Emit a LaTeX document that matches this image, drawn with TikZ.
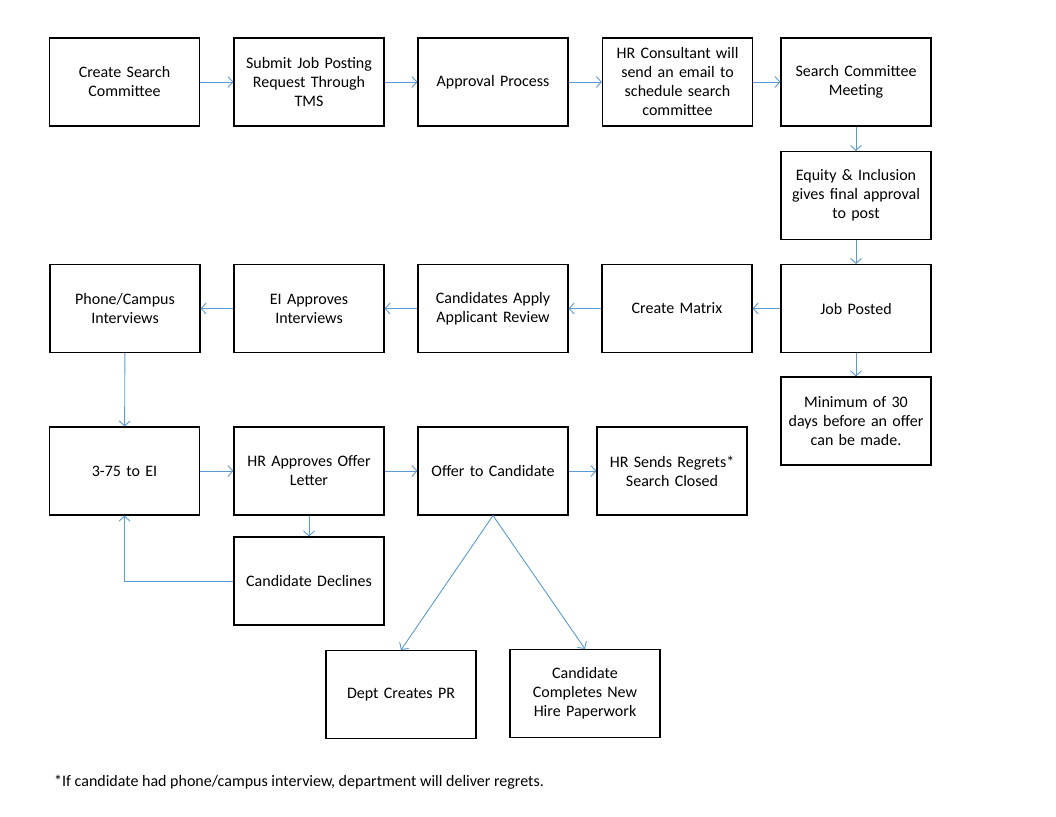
\documentclass[tikz,border=0pt]{standalone}
\usepackage{fontspec}
\setmainfont{Carlito}
\usetikzlibrary{arrows.meta}
\definecolor{arr}{RGB}{91,155,213}
\begin{document}
\begin{tikzpicture}[x=1pt,y=-1pt,
  box/.style={draw=black,line width=1.1pt,minimum width=150pt,minimum height=88pt,text width=146pt,align=center,inner sep=0pt,font=\fontsize{16}{19}\selectfont},
  conn/.style={draw=arr,line width=0.9pt,-{Straight Barb[length=5pt,width=11pt]}}]
\useasboundingbox (0,0) rectangle (1056,816);
\node[box] (csc) at (124.5,82) {Create Search\\Committee};
\node[box] (sjp) at (309,82) {Submit Job Posting\\Request Through\\TMS};
\node[box] (ap) at (493,82) {Approval Process};
\node[box] (hrc) at (677.5,82) {HR Consultant will\\send an email to\\schedule search\\committee};
\node[box] (scm) at (856,82) {Search Committee\\Meeting};
\node[box] (eq) at (856,195.5) {Equity \& Inclusion\\gives final approval\\to post};
\node[box] (jp) at (856,308.5) {Job Posted};
\node[box] (min) at (856,421) {Minimum of 30\\days before an offer\\can be made.};
\node[box] (cm) at (677,308.5) {Create Matrix};
\node[box] (caa) at (493,308.5) {Candidates Apply\\Applicant Review};
\node[box] (eia) at (309,308.5) {EI Approves\\Interviews};
\node[box] (pci) at (125,308.5) {Phone/Campus\\Interviews};
\node[box] (ei) at (124.5,471) {3-75 to EI};
\node[box] (hra) at (309,471) {HR Approves Offer\\Letter};
\node[box] (otc) at (493,471) {Offer to Candidate};
\node[box] (hrs) at (672,471) {HR Sends Regrets*\\Search Closed};
\node[box] (cd) at (309,581) {Candidate Declines};
\node[box] (dpr) at (401,694.5) {Dept Creates PR};
\node[box] (ccn) at (585,693.5) {Candidate\\Completes New\\Hire Paperwork};
\node[anchor=west,inner sep=0pt,font=\fontsize{16}{19}\selectfont] (fn) at (54,782) {*If candidate had phone/campus interview, department will deliver regrets.};
\draw[conn] (csc) -- (sjp);
\draw[conn] (sjp) -- (ap);
\draw[conn] (ap) -- (hrc);
\draw[conn] (hrc) -- (scm);
\draw[conn] (scm) -- (eq);
\draw[conn] (eq) -- (jp);
\draw[conn] (jp) -- (min);
\draw[conn] (jp) -- (cm);
\draw[conn] (cm) -- (caa);
\draw[conn] (caa) -- (eia);
\draw[conn] (eia) -- (pci);
\draw[conn] (pci) -- (ei);
\draw[conn] (ei) -- (hra);
\draw[conn] (hra) -- (otc);
\draw[conn] (otc) -- (hrs);
\draw[conn] (hra) -- (cd);
\draw[conn] (cd.west) -| (ei.south);
\draw[conn] (otc.south) -- (dpr.north);
\draw[conn] (otc.south) -- (ccn.north);
\end{tikzpicture}
\end{document}
